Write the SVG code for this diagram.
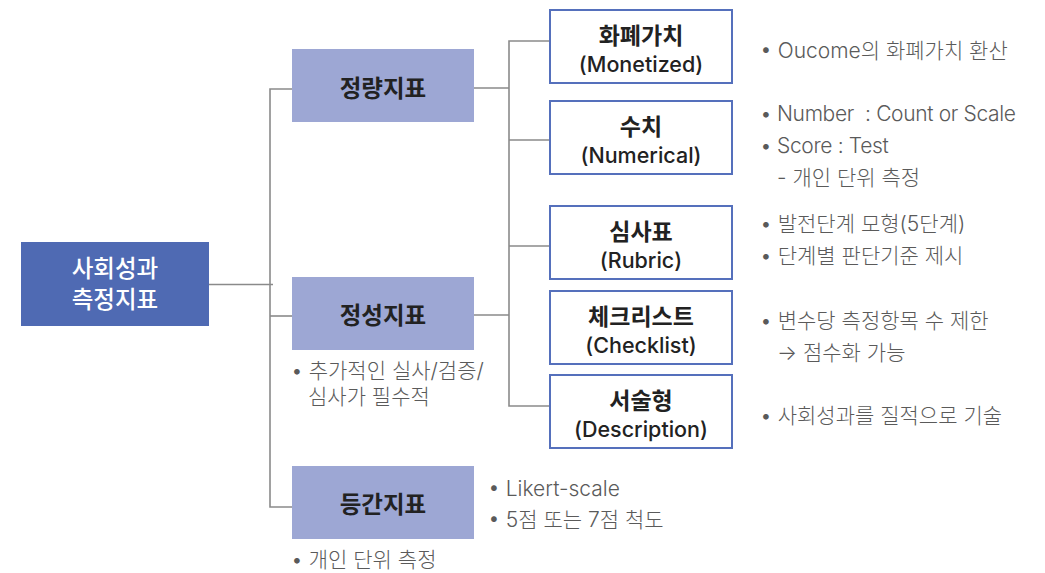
<svg xmlns="http://www.w3.org/2000/svg" width="1045" height="573" viewBox="0 0 1045 573">
<style>
.ln{fill:none;stroke:#8a8a8a;stroke-width:1.6}
.root{fill:#4F6AB3}
.l2{fill:#9DA7D4}
.l3{fill:#fff;stroke:#5570BC;stroke-width:2}
.t{font-family:Inter,"Noto Sans CJK KR",sans-serif}
.rt{font-size:23.5px;fill:#fff;text-anchor:middle;font-weight:500}
.h2{font-size:23.5px;fill:#222;text-anchor:middle;font-weight:700}
.h3{fill:#222;text-anchor:middle}
.a{font-size:23px;font-weight:700}
.b{font-size:21.5px;font-weight:500}
.d{font-size:21px;fill:#5a5a5a;font-weight:300}
.n{letter-spacing:-0.35px}
</style>
<rect width="1045" height="573" fill="#fff"/>
<g id="connectors">
<path class="ln" d="M209 284.5H273"/>
<path class="ln" d="M292 89H270V507H292"/>
<path class="ln" d="M270 316H292"/>
<path class="ln" d="M474 88H509M550 41H509V406H550M509 140H550M509 246H550"/>
<path class="ln" d="M474 315H509"/>
</g>
<g id="root">
<rect class="root" x="21" y="242" width="188" height="84"/>
<text class="t rt"><tspan x="115" y="277">사회성과</tspan><tspan x="115" y="308">측정지표</tspan></text>
</g>
<g id="quant">
<rect class="l2" x="292" y="49" width="182" height="73"/>
<text class="t h2" x="383" y="97">정량지표</text>
</g>
<g id="qual">
<rect class="l2" x="292" y="277" width="182" height="73"/>
<text class="t h2" x="383" y="324">정성지표</text>
<text class="t d"><tspan x="291" y="378">• 추가적인 실사/검증/</tspan><tspan x="308" y="404">심사가 필수적</tspan></text>
</g>
<g id="interval">
<rect class="l2" x="292" y="466" width="182" height="73"/>
<text class="t h2" x="383" y="513">등간지표</text>
<text class="t d" x="291" y="567">• 개인 단위 측정</text>
<text class="t d"><tspan x="488" y="496">• Likert-scale</tspan><tspan x="488" y="527">• 5점 또는 7점 척도</tspan></text>
</g>
<g id="monetized">
<rect class="l3" x="550" y="10" width="182" height="73"/>
<text class="t h3"><tspan class="a" x="641" y="44">화폐가치</tspan><tspan class="b" x="641" y="72">(Monetized)</tspan></text>
<text class="t d" x="760" y="58">• Oucome의 화폐가치 환산</text>
</g>
<g id="numerical">
<rect class="l3" x="550" y="101" width="182" height="73"/>
<text class="t h3"><tspan class="a" x="641" y="135">수치</tspan><tspan class="b" x="641" y="163">(Numerical)</tspan></text>
<text class="t d" xml:space="preserve"><tspan class="n" x="760" y="121">• Number  : Count or Scale</tspan><tspan class="n" x="760" y="153">• Score : Test</tspan><tspan x="777" y="185">- 개인 단위 측정</tspan></text>
</g>
<g id="rubric">
<rect class="l3" x="550" y="206" width="182" height="73"/>
<text class="t h3"><tspan class="a" x="641" y="240">심사표</tspan><tspan class="b" x="641" y="268">(Rubric)</tspan></text>
<text class="t d"><tspan x="760" y="231">• 발전단계 모형(5단계)</tspan><tspan x="760" y="263">• 단계별 판단기준 제시</tspan></text>
</g>
<g id="checklist">
<rect class="l3" x="550" y="291" width="182" height="73"/>
<text class="t h3"><tspan class="a" x="641" y="325">체크리스트</tspan><tspan class="b" x="641" y="353">(Checklist)</tspan></text>
<text class="t d"><tspan x="760" y="328">• 변수당 측정항목 수 제한</tspan><tspan x="777" y="360">→ 점수화 가능</tspan></text>
</g>
<g id="description">
<rect class="l3" x="550" y="375" width="182" height="73"/>
<text class="t h3"><tspan class="a" x="641" y="409">서술형</tspan><tspan class="b" x="641" y="437">(Description)</tspan></text>
<text class="t d" x="760" y="423">• 사회성과를 질적으로 기술</text>
</g>
</svg>
